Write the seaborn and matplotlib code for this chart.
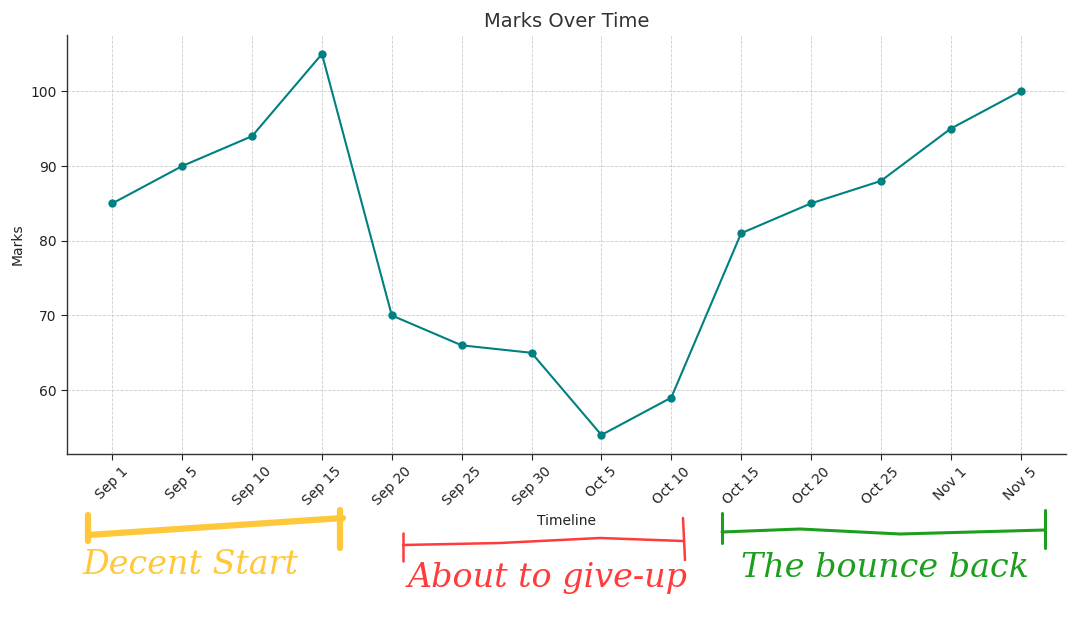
import matplotlib
matplotlib.use("Agg")
import matplotlib.pyplot as plt
import seaborn as sns
import pandas as pd
from matplotlib.lines import Line2D

dates = ["Sep 1", "Sep 5", "Sep 10", "Sep 15", "Sep 20", "Sep 25", "Sep 30",
         "Oct 5", "Oct 10", "Oct 15", "Oct 20", "Oct 25", "Nov 1", "Nov 5"]
marks = [85, 90, 94, 105, 70, 66, 65, 54, 59, 81, 85, 88, 95, 100]

phase_labels = ["Decent Start", "About to give-up", "The bounce back"]
phase_colors = ["#FFC83A", "#FF3B3B", "#1E9E1E"]

sns.set_style("white")
plt.rcParams['font.family'] = ['DejaVu Sans']

df = pd.DataFrame({"Timeline": dates, "Marks": marks})

fig = plt.figure(figsize=(10.8, 6.35), dpi=100)
ax = fig.add_axes([0.062, 0.285, 0.925, 0.66])

sns.lineplot(data=df, x="Timeline", y="Marks", sort=False, color="teal",
             marker="o", markersize=6, markeredgewidth=0, linewidth=1.5, ax=ax)

ax.set_title("Marks Over Time", fontsize=14, color="#333333")
ax.set_xlabel("Timeline", fontsize=10, color="#222222")
ax.set_ylabel("Marks", fontsize=10, color="#222222")
ax.grid(True, linestyle="--", linewidth=0.6, color="#cccccc")
ax.tick_params(axis="x", rotation=45, labelsize=10, colors="#222222", length=4, left=True, bottom=True)
ax.tick_params(axis="y", labelsize=10, colors="#222222", length=4)
ax.tick_params(bottom=True, left=True)
for s in ["top", "right"]:
    ax.spines[s].set_visible(False)
for s in ["left", "bottom"]:
    ax.spines[s].set_color("#333333")
    ax.spines[s].set_linewidth(1.0)
ax.set_yticks([60, 70, 80, 90, 100])

W, H = 1080, 635
def fl(xs, ys, color, lw):
    fig.add_artist(Line2D([x / W for x in xs], [1 - y / H for y in ys],
                          color=color, linewidth=lw, solid_capstyle="round",
                          transform=fig.transFigure))

# yellow bracket
fl([88, 343], [535, 518], phase_colors[0], 4.5)
fl([88, 88], [515, 541], phase_colors[0], 4.5)
fl([340, 340], [510, 548], phase_colors[0], 4.5)
# red bracket
fl([403, 500, 600, 683], [545, 543, 538, 541], phase_colors[1], 1.8)
fl([403, 403], [533, 561], phase_colors[1], 1.8)
fl([683, 685], [518, 560], phase_colors[1], 1.8)
# green bracket
fl([722, 800, 900, 1045], [532, 529, 534, 530], phase_colors[2], 2.2)
fl([722, 722], [513, 543], phase_colors[2], 2.2)
fl([1045, 1045], [510, 548], phase_colors[2], 2.2)

fig.text(190 / W, 1 - 565 / H, phase_labels[0], color=phase_colors[0], fontsize=24,
         ha="center", va="center", fontstyle="italic", family="DejaVu Serif")
fig.text(548 / W, 1 - 578 / H, phase_labels[1], color=phase_colors[1], fontsize=24,
         ha="center", va="center", fontstyle="italic", family="DejaVu Serif")
fig.text(885 / W, 1 - 568 / H, phase_labels[2], color=phase_colors[2], fontsize=24,
         ha="center", va="center", fontstyle="italic", family="DejaVu Serif")

fig.savefig("out.png", dpi=100)
